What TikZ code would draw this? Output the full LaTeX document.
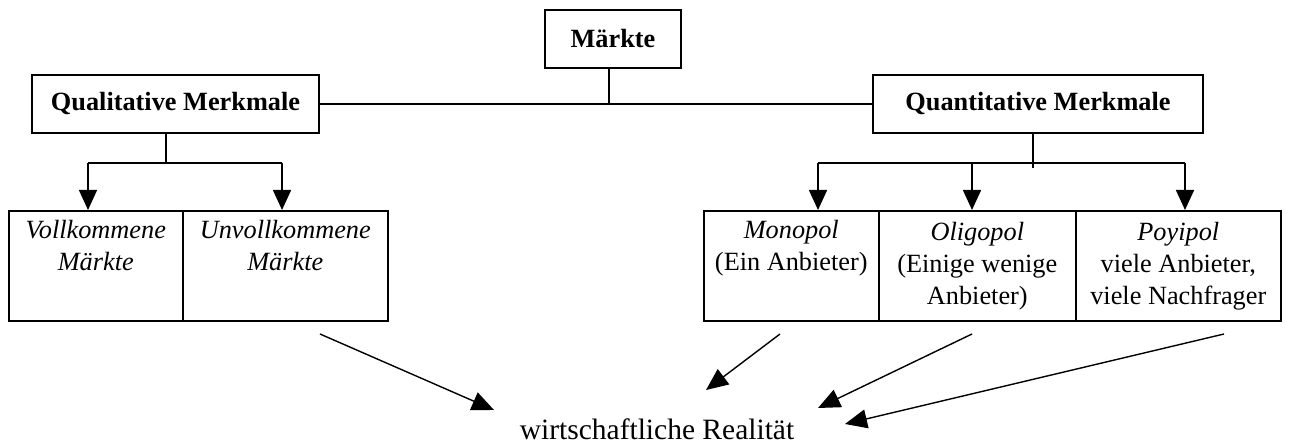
\documentclass[tikz,border=0pt]{standalone}
\usepackage{fontspec}
\setmainfont{Liberation Serif}
\usetikzlibrary{arrows.meta}
\begin{document}
\begin{tikzpicture}[x=1pt,y=-1pt,
  font=\fontsize{26.3}{32}\selectfont,
  box/.style={draw,line width=1.6pt,inner sep=0pt,align=center},
  head/.style={box,font=\fontsize{26.3}{32}\selectfont\bfseries},
  cell/.style={box,anchor=north west,minimum height=110pt},
  conn/.style={line width=1.6pt},
  arr/.style={line width=1.6pt,-{Triangle[length=20pt,width=18pt]}},
  slant/.style={line width=1.4pt,-{Triangle[length=22pt,width=19pt]}}]
\useasboundingbox (0,0) rectangle (1291,443);
% top level
\node[head,minimum width=136pt,minimum height=58pt] (m) at (613,39) {Märkte};
\node[head,minimum width=287pt,minimum height=58pt] (ql) at (175.5,104) {Qualitative Merkmale};
\node[head,minimum width=330pt,minimum height=58pt] (qn) at (1038,104) {Quantitative Merkmale};
\coordinate (mj) at (609,104);
\draw[conn] (ql.east) -- (qn.west);
\draw[conn] (m.south -| mj) -- (mj);
% left branch
\coordinate (lj) at (166,163);
\coordinate (la) at (88,163);
\coordinate (lb) at (282,163);
\node[cell,minimum width=174pt] (voll) at (8,210) {\itshape Vollkommene\\\itshape Märkte\\\strut};
\node[cell,minimum width=205pt] (unvoll) at (182,210) {\itshape Unvollkommene\\\itshape Märkte\\\strut};
\draw[conn] (ql.south -| lj) -- (lj);
\draw[conn] (la) -- (lb);
\draw[arr] (la) -- (la |- voll.north);
\draw[arr] (lb) -- (lb |- unvoll.north);
% right branch
\coordinate (rj) at (1033,163);
\coordinate (rj2) at (1033,168);
\coordinate (ra) at (818,163);
\coordinate (rb) at (972,163);
\coordinate (rc) at (1185,163);
\node[cell,minimum width=175pt] (mono) at (703,210) {\itshape Monopol\\(Ein Anbieter)\\\strut};
\node[cell,minimum width=197pt] (oligo) at (878,210) {\itshape Oligopol\\(Einige wenige\\Anbieter)};
\node[cell,minimum width=205pt] (poly) at (1075,210) {\itshape Poyipol\\viele Anbieter,\\viele Nachfrager};
\draw[conn] (qn.south -| rj) -- (rj2);
\draw[conn] (ra) -- (rc);
\draw[arr] (ra) -- (ra |- mono.north);
\draw[arr] (rb) -- (rb |- oligo.north);
\draw[arr] (rc) -- (rc |- poly.north);
% bottom
\node[inner sep=0pt,anchor=base,font=\fontsize{29.5}{33}\selectfont] (real) at (657,439) {wirtschaftliche Realität};
\coordinate (s1) at (320,334);
\coordinate (s2) at (780,334);
\coordinate (s3) at (972,334);
\coordinate (s4) at (1224,334);
\coordinate (e1) at (494,410);
\coordinate (e2) at (706,390);
\coordinate (e3) at (818,408);
\coordinate (e4) at (845,424);
\draw[slant] (s1) -- (e1);
\draw[slant] (s2) -- (e2);
\draw[slant] (s3) -- (e3);
\draw[slant] (s4) -- (e4);
\end{tikzpicture}
\end{document}
